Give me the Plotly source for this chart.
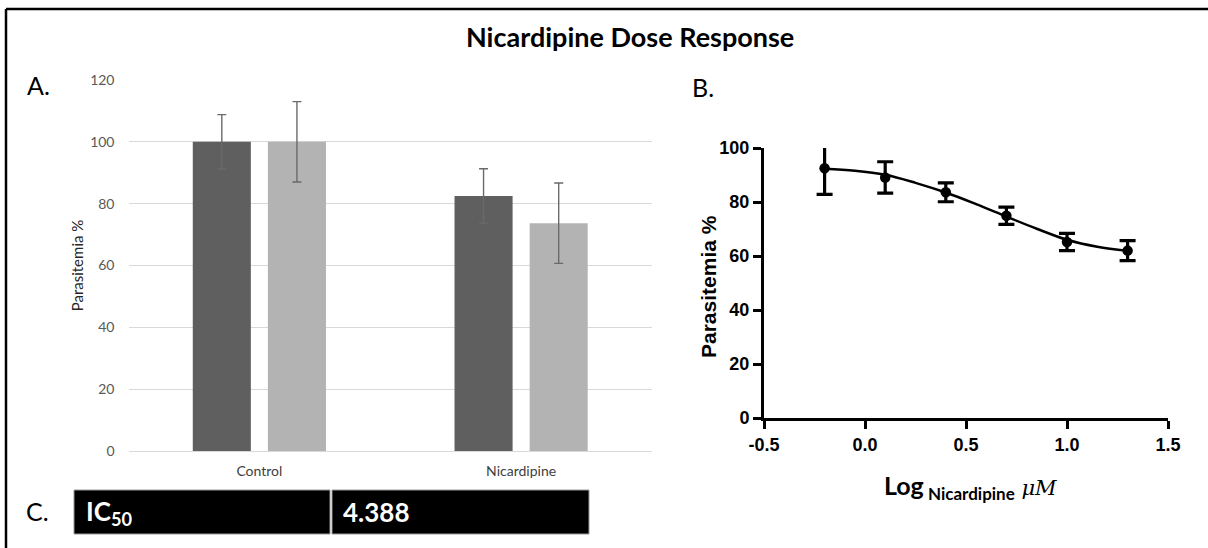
import plotly.graph_objects as go

W, H = 1208, 548

# ---- Panel A data ----
groups = ["Control", "Nicardipine"]
dark_vals = [100, 82.5]
dark_err = [8.8, 8.8]
light_vals = [100, 73.7]
light_err = [13.0, 13.0]
a_ticks = [0, 20, 40, 60, 80, 100, 120]

# ---- Panel B data ----
log_conc = [-0.2, 0.1, 0.4, 0.7, 1.0, 1.3]
response = [92.5, 89.1, 83.6, 74.9, 65.2, 62.0]
response_err = [9.7, 5.8, 3.5, 3.2, 3.2, 3.7]
fit_x = [-0.2, -0.05, 0.1, 0.25, 0.4, 0.55, 0.7, 0.85, 1.0, 1.15, 1.3]
fit_y = [92.3, 91.6, 90.1, 87.1, 83.5, 79.2, 74.6, 70.1, 66.0, 63.4, 61.9]
b_yticks = [0, 20, 40, 60, 80, 100]
b_xticks = [-0.5, 0.0, 0.5, 1.0, 1.5]
b_xticktext = ["-0.5", "0.0", "0.5", "1.0", "1.5"]

# ---- Panel C ----
ic50_label = "IC<sub>50</sub>"
ic50_value = "4.388"


def px(x):
    return x / W


def py(y):
    return 1 - y / H


fig = go.Figure()

fig.add_trace(go.Bar(
    x=groups, y=dark_vals, marker=dict(color="#5f5f5f", line=dict(width=0)),
    error_y=dict(type="data", array=dark_err, color="#6a6a6a", thickness=1.4, width=4.5),
    xaxis="x", yaxis="y", showlegend=False))
fig.add_trace(go.Bar(
    x=groups, y=light_vals, marker=dict(color="#b3b3b3", line=dict(width=0)),
    error_y=dict(type="data", array=light_err, color="#6a6a6a", thickness=1.4, width=4.5),
    xaxis="x", yaxis="y", showlegend=False))

fig.add_trace(go.Scatter(
    x=fit_x, y=fit_y, mode="lines", line=dict(color="black", width=2.5, shape="spline"),
    xaxis="x2", yaxis="y2", showlegend=False, hoverinfo="skip"))
fig.add_trace(go.Scatter(
    x=log_conc, y=response, mode="markers",
    marker=dict(color="black", size=10.5),
    error_y=dict(type="data", array=response_err, color="black", thickness=3.2, width=8),
    xaxis="x2", yaxis="y2", showlegend=False, cliponaxis=True))

font_cal = "Lato, 'Open Sans', sans-serif"
font_arial = "'Liberation Sans', Arial, sans-serif"

fig.update_layout(
    template="none",
    width=W, height=H,
    margin=dict(l=0, r=0, t=0, b=0, pad=0),
    paper_bgcolor="white", plot_bgcolor="white",
    barmode="group", bargap=0.426, bargroupgap=0.227,
    xaxis=dict(domain=[px(128.5), px(652)], showgrid=False, showline=True, automargin=False,
               linecolor="#d9d9d9", linewidth=1, ticks="", zeroline=False,
               tickfont=dict(family=font_cal, size=14, color="#404040"),
               ticklabelstandoff=7, fixedrange=True),
    yaxis=dict(domain=[py(451), py(80)], range=[0, 120], tickvals=a_ticks, automargin=False,
               showgrid=True, gridcolor="#d9d9d9", gridwidth=1, zeroline=False,
               showline=False, ticks="",
               tickfont=dict(family=font_cal, size=14, color="#595959"),
               ticklabelstandoff=13,
               title=dict(text="Parasitemia %", font=dict(family=font_cal, size=15, color="#262626"),
                          standoff=2)),
    xaxis2=dict(domain=[px(764), px(1168)], anchor="y2", range=[-0.5, 1.5], automargin=False,
                tickvals=b_xticks, ticktext=b_xticktext,
                showgrid=False, zeroline=False, showline=True, linecolor="black", linewidth=3,
                ticks="outside", ticklen=8, tickwidth=3, tickcolor="black",
                tickfont=dict(family=font_arial, size=18, color="black", weight="bold")),
    yaxis2=dict(domain=[py(418), py(148)], anchor="x2", range=[0, 100], automargin=False,
                tickvals=b_yticks, showgrid=False, zeroline=False, showline=True,
                linecolor="black", linewidth=3,
                ticks="outside", ticklen=8, tickwidth=3, tickcolor="black",
                tickfont=dict(family=font_arial, size=18, color="black", weight="bold")),
)

annotations = [
    dict(text="<b>Nicardipine Dose Response</b>", x=px(630), y=py(36), font=dict(family=font_cal, size=27, color="black")),
    dict(text="A.", x=px(38), y=py(85), font=dict(family=font_cal, size=25, color="black")),
    dict(text="B.", x=px(703), y=py(87), font=dict(family=font_cal, size=25, color="black")),
    dict(text="C.", x=px(37), y=py(511), font=dict(family=font_cal, size=25, color="black")),
    dict(text="<b>Parasitemia %</b>", x=px(708), y=py(287), textangle=-90,
         font=dict(family=font_arial, size=21, color="black")),
    dict(text=("<b>Log</b><sub><span style='font-size:17px'><b> Nicardipine</b></span></sub>"
               "<span style='font-family:\"DejaVu Serif\", serif;font-size:21px'><i> \u03bcM</i></span>"),
         x=px(970), y=py(487), font=dict(family=font_cal, size=25, color="black")),
    dict(text="<b>" + ic50_label + "</b>", x=px(84), y=py(512), xanchor="left",
         font=dict(family=font_cal, size=26, color="white")),
    dict(text="<b>" + ic50_value + "</b>", x=px(341), y=py(512), xanchor="left",
         font=dict(family=font_cal, size=26, color="white")),
]
for a in annotations:
    a.setdefault("xanchor", "center")
    a.update(xref="paper", yref="paper", showarrow=False, yanchor="middle")
fig.update_layout(annotations=annotations)

shapes = [
    # frame lines
    dict(type="line", x0=px(6), x1=1, y0=py(9), y1=py(9), line=dict(color="black", width=2.5)),
    dict(type="line", x0=px(6), x1=px(6), y0=py(9), y1=0, line=dict(color="black", width=2.5)),
    # table cells
    dict(type="rect", x0=px(74), x1=px(330), y0=py(534), y1=py(490), fillcolor="black",
         line=dict(color="#9a9a9a", width=1), layer="below"),
    dict(type="rect", x0=px(332), x1=px(589), y0=py(534), y1=py(490), fillcolor="black",
         line=dict(color="#9a9a9a", width=1), layer="below"),
]
for s in shapes:
    s.update(xref="paper", yref="paper")
fig.update_layout(shapes=shapes)

fig.write_html("out.html")
